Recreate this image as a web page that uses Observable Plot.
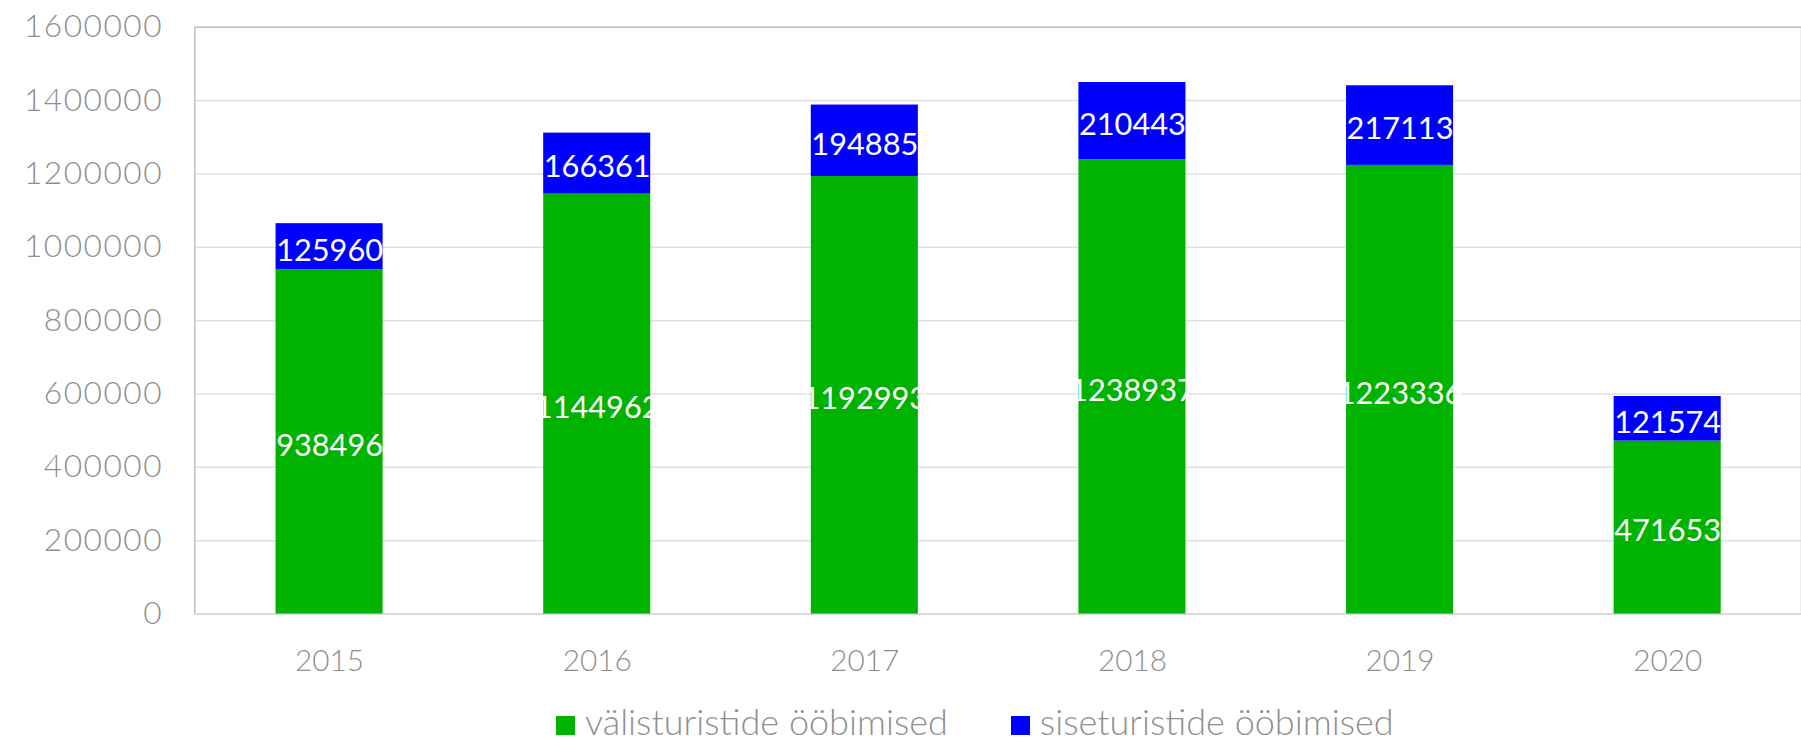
<!DOCTYPE html>
<html>
<head>
<meta charset="utf-8">
<script src="https://cdn.jsdelivr.net/npm/d3@7"></script>
<script src="https://cdn.jsdelivr.net/npm/@observablehq/plot@0.6"></script>
<style>
  html, body { margin: 0; padding: 0; background: #fff; overflow: hidden; width: 1801px; height: 739px; }
  #chart { position: absolute; left: 0; top: 0; }
  #legend { position: absolute; left: 556px; top: 703px; line-height: 36px; height: 36px;
    font-family: Lato, "Open Sans", sans-serif; font-weight: 300; font-size: 36px; color: #8f8f8f; white-space: nowrap; }
  .sw { display: inline-block; width: 19px; height: 19px; margin-right: 10px; vertical-align: baseline; }
  .item { display: inline-block; margin-right: 63px; }
</style>
</head>
<body>
<div id="chart"></div>
<div id="legend"></div>
<script>
const years = ["2015", "2016", "2017", "2018", "2019", "2020"];
const foreignNights = [938496, 1144962, 1192993, 1238937, 1223336, 471653];
const domesticNights = [125960, 166361, 194885, 210443, 217113, 121574];
const seriesNames = ["välisturistide ööbimised", "siseturistide ööbimised"];
const seriesColors = ["#00b300", "#0000ff"];
const yTicks = [0, 200000, 400000, 600000, 800000, 1000000, 1200000, 1400000, 1600000];

const data = [];
years.forEach((y, i) => {
  data.push({year: y, series: seriesNames[0], value: foreignNights[i]});
  data.push({year: y, series: seriesNames[1], value: domesticNights[i]});
});

const font = "Lato, 'Open Sans', sans-serif";
const chart = Plot.plot({
  width: 1817,
  height: 700,
  marginLeft: 196,
  marginRight: 0,
  marginTop: 27,
  marginBottom: 81,
  style: {fontFamily: font, fontWeight: 300, fontSize: "30px", color: "#8f8f8f", background: "white"},
  x: {domain: years, paddingInner: 0.6, paddingOuter: 0.3, label: null},
  y: {domain: [0, 1600000], label: null},
  color: {domain: seriesNames, range: seriesColors},
  marks: [
    Plot.ruleY(yTicks, {stroke: "#e0e0e0", strokeWidth: 1.5}),
    Plot.frame({stroke: "#c0c0c0", strokeWidth: 1.5}),
    Plot.ruleY([0], {stroke: "#dadada", strokeWidth: 2}),
    Plot.barY(data, {x: "year", y: "value", fill: "series", z: "series"}),
    Plot.text(data, Plot.stackY({x: "year", y: "value", z: "series", text: d => String(d.value),
      fill: "white", fontSize: 31, fontWeight: 400, dy: 4})),
    Plot.axisY(yTicks, {tickSize: 0, tickPadding: 32, tickFormat: d => String(d), fontSize: 32,
      letterSpacing: 1.5, fill: "#8f8f8f", label: null}),
    Plot.axisX({tickSize: 0, tickPadding: 36, fontSize: 30, fill: "#8f8f8f", label: null})
  ]
});
chart.querySelectorAll("[aria-label='y-axis tick label'] text, g[aria-label='y-axis tick label']").forEach(g => g.setAttribute("letter-spacing", "1.5"));
document.getElementById("chart").appendChild(chart);

const legend = document.getElementById("legend");
seriesNames.forEach((name, i) => {
  const item = document.createElement("span");
  item.className = "item";
  const sw = document.createElement("span");
  sw.className = "sw";
  sw.style.background = seriesColors[i];
  item.appendChild(sw);
  item.appendChild(document.createTextNode(name));
  legend.appendChild(item);
});
</script>
</body>
</html>
